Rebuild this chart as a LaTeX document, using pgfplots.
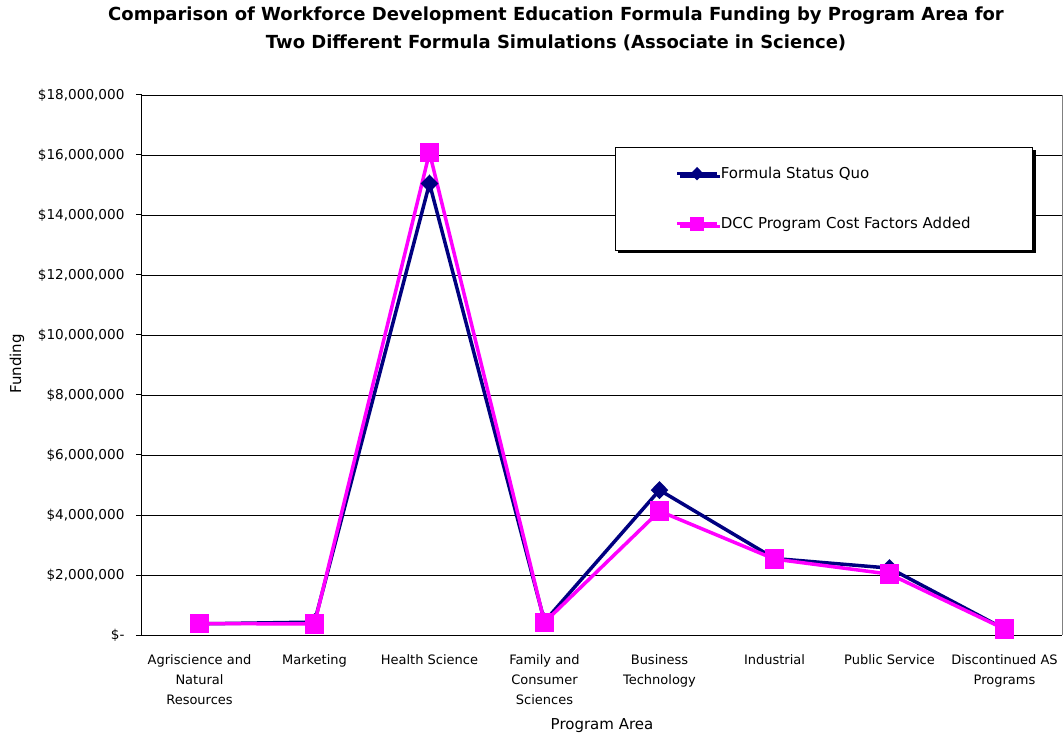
\documentclass[border=0pt]{standalone}
\usepackage{pgfplots}
\pgfplotsset{compat=1.18}
\usepackage{fontspec}
\setmainfont{DejaVu Sans}
\usetikzlibrary{shadows}
\definecolor{navyblue}{HTML}{000080}
\definecolor{magen}{HTML}{FF00FF}
\begin{document}
\begin{tikzpicture}[x=1pt,y=1pt]
\useasboundingbox (0,0) rectangle (1063,737);
\node[font=\fontsize{18}{28}\selectfont\bfseries, align=center] at (556,708) {Comparison of Workforce Development Education Formula Funding by Program Area for\\Two Different Formula Simulations (Associate in Science)};
\node[font=\fontsize{15}{17}\selectfont] at (602,11) {Program Area};
\node[font=\fontsize{15}{17}\selectfont, rotate=90] at (17,373) {Funding};
\begin{axis}[
  at={(142pt,102pt)}, anchor=south west,
  scale only axis, width=920pt, height=540pt,
  xmin=-0.5, xmax=7.5, ymin=0, ymax=18000000,
  axis x line*=bottom, axis y line*=left,
  axis line style={black, line width=1pt},
  xtick={0,1,2,3,4,5,6,7},
  xticklabels={{Agriscience and\\Natural\\Resources},{Marketing},{Health Science},{Family and\\Consumer\\Sciences},{Business\\Technology},{Industrial},{Public Service},{Discontinued AS\\Programs}},
  xticklabel style={align=center, font=\fontsize{13}{20}\selectfont, yshift=-10pt},
  x tick style={draw=none},
  minor xtick={-0.5,0.5,1.5,2.5,3.5,4.5,5.5,6.5,7.5},
  minor x tick style={black, line width=1pt},
  minor tick length=6pt,
  ytick={0,2000000,4000000,6000000,8000000,10000000,12000000,14000000,16000000,18000000},
  yticklabels={\$-,{\$2,000,000},{\$4,000,000},{\$6,000,000},{\$8,000,000},{\$10,000,000},{\$12,000,000},{\$14,000,000},{\$16,000,000},{\$18,000,000}},
  yticklabel style={font=\fontsize{13.6}{15}\selectfont, xshift=-8pt},
  y tick style={black, line width=1pt},
  major tick length=6pt,
  tick align=outside,
  ymajorgrids,
  grid style={black, line width=0.8pt},
  scaled y ticks=false,
  clip=false,
  legend cell align=left,
  legend image code/.code={\draw[mark repeat=2,mark phase=2, every mark/.append style={scale=0.65}] plot coordinates {(0pt,0pt)(20pt,0pt)(40pt,0pt)};},
  legend style={at={(0.514,0.904)}, anchor=north west, draw=black, line width=0.8pt, fill=white,
    inner xsep=60pt, inner ysep=18pt, row sep=33pt, font=\fontsize{15}{17}\selectfont,
    drop shadow={shadow xshift=3pt, shadow yshift=-3pt, opacity=1, fill=black}},
]
\addplot[navyblue, line width=3.5pt, mark=diamond*, mark size=6.5pt, mark options={xscale=1.3, draw=none, fill=navyblue}]
  coordinates {(0,370000) (1,430000) (2,15050000) (3,450000) (4,4830000) (5,2550000) (6,2230000) (7,200000)};
\addlegendentry{Formula Status Quo}
\addplot[magen, line width=3.5pt, mark=square*, mark size=8pt, mark options={draw=none, fill=magen}]
  coordinates {(0,380000) (1,370000) (2,16080000) (3,420000) (4,4130000) (5,2530000) (6,2030000) (7,200000)};
\addlegendentry{DCC Program Cost Factors Added}
\draw[gray, line width=0.8pt] (rel axis cs:1,0) -- (rel axis cs:1,1);
\end{axis}
\end{tikzpicture}
\end{document}
